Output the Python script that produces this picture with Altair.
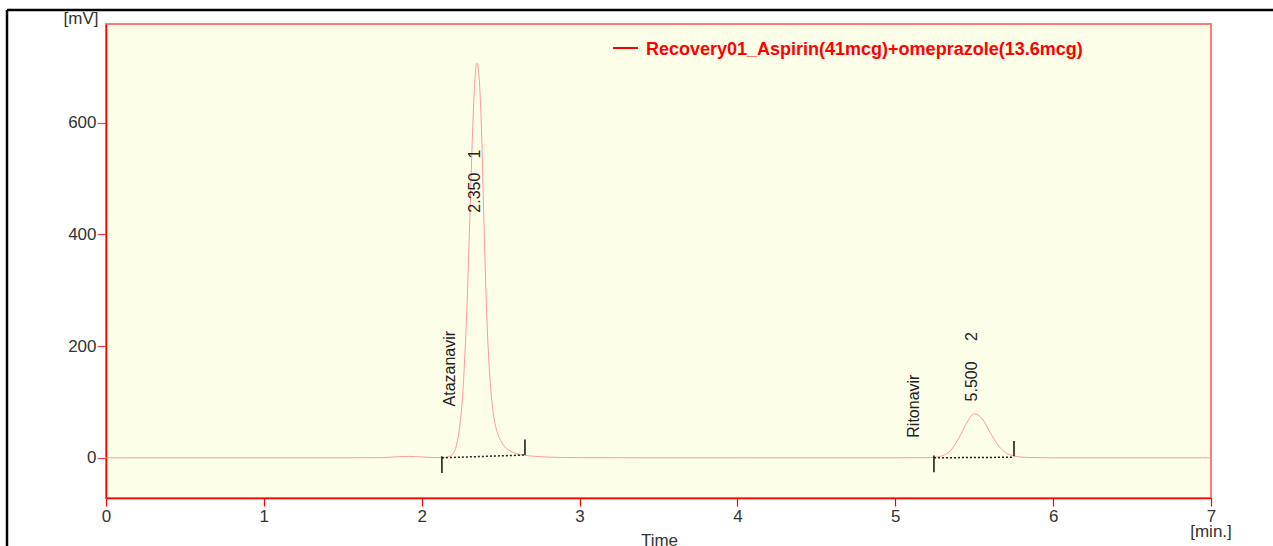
import altair as alt
import pandas as pd

FONT = "Liberation Sans"

series_name = "Recovery01_Aspirin(41mcg)+omeprazole(13.6mcg)"

# Detector trace: retention time [min] and signal [mV]
time_min = [
    0.0, 0.5, 1.0, 1.5, 1.75, 1.85, 1.92, 2.0, 2.06, 2.10,
    2.13, 2.15, 2.18, 2.20, 2.21, 2.22, 2.23, 2.24, 2.25, 2.26,
    2.27, 2.28, 2.29, 2.30, 2.31, 2.32, 2.33, 2.34, 2.35, 2.36,
    2.37, 2.38, 2.39, 2.40, 2.41, 2.42, 2.43, 2.44, 2.45, 2.46,
    2.47, 2.48, 2.50, 2.52, 2.55, 2.60, 2.65, 2.70, 2.80, 2.90,
    3.0, 3.5, 4.0, 4.5, 5.0, 5.20, 5.25, 5.30, 5.35, 5.40,
    5.45, 5.50, 5.55, 5.60, 5.65, 5.70, 5.75, 5.80, 5.90, 6.0,
    6.5, 7.0,
]
signal_mv = [
    0, 0, 0, 0, 0.3, 2, 2.5, 1.5, 0.5, 0.3,
    0.5, 1, 3, 8, 13, 22, 36, 55, 80, 115,
    165, 225, 298, 385, 478, 566, 640, 690, 707, 693,
    650, 575, 468, 362, 272, 202, 152, 114, 87, 68,
    54, 44, 31, 22, 14, 7.5, 4.5, 3, 1.3, 0.5,
    0.2, 0, 0, 0, 0, 0.3, 1, 4, 13, 34,
    61, 79, 70, 46, 23, 9, 3.5, 1.2, 0.3, 0,
    0, 0,
]

# Integrated peaks
peak_rt = [2.350, 5.500]
peak_rt_text = ["2.350", "5.500"]
peak_number = ["1", "2"]
peak_rt_label_mv = [439, 101]
peak_number_label_mv = [536, 209]
compound = ["Atazanavir", "Ritonavir"]
compound_label_time = [2.208, 5.153]
compound_label_mv = [92, 36]

# Integration baselines and their start/end markers
base_start_time = [2.128, 5.245]
base_end_time = [2.654, 5.752]
base_start_mv = [0, 0]
base_end_mv = [5, 1]
start_tick_low = [-27, -26]
start_tick_high = [3, 4]
end_tick_low = [5, 3]
end_tick_high = [33, 30]

trace = pd.DataFrame({"t": time_min, "mv": signal_mv})
peaks = pd.DataFrame({
    "rt": peak_rt, "rt_text": peak_rt_text, "num": peak_number,
    "rt_y": peak_rt_label_mv, "num_y": peak_number_label_mv,
    "name": compound, "name_t": compound_label_time, "name_y": compound_label_mv,
    "b0": base_start_time, "b1": base_end_time,
    "v0": base_start_mv, "v1": base_end_mv,
    "s_lo": start_tick_low, "s_hi": start_tick_high,
    "e_lo": end_tick_low, "e_hi": end_tick_high,
})
one = pd.DataFrame({"name": [series_name]})

x_scale = alt.Scale(domain=[0, 7], nice=False, zero=False)
y_scale = alt.Scale(domain=[-72, 777], nice=False, zero=False)

x_axis = alt.Axis(
    values=list(range(8)), format="d", grid=False,
    tickSize=8, tickColor="#ff0000", tickWidth=1.2,
    domainColor="#ff0000", domainWidth=1.5,
    labelFont=FONT, labelFontSize=17, labelColor="#333333",
    labelPadding=2, labelFlush=False, labelOverlap=False,
    title="Time", titleFont=FONT, titleFontSize=17, titleFontWeight="normal",
    titleColor="#333333", titleX=553, titleY=47, titleBaseline="alphabetic",
    titleAlign="center",
)
y_axis = alt.Axis(
    values=[0, 200, 400, 600], grid=False,
    tickSize=9, tickColor="#ff4040", tickWidth=1.2,
    domainColor="#ff0000", domainWidth=1.5,
    labelFont=FONT, labelFontSize=17, labelColor="#333333", labelPadding=1,
    labelFlush=False, labelOverlap=False,
    title="[mV]", titleFont=FONT, titleFontSize=17, titleFontWeight="normal",
    titleColor="#333333", titleAngle=0, titleAlign="right",
    titleX=-8, titleY=-1, titleBaseline="alphabetic",
)


def xq(field):
    return alt.X(field, type="quantitative", scale=x_scale, axis=x_axis)


def yq(field):
    return alt.Y(field, type="quantitative", scale=y_scale, axis=y_axis)


line = alt.Chart(trace).mark_line(
    color="#ff9a9a", strokeWidth=1, interpolate="monotone"
).encode(x=xq("t"), y=yq("mv"))

base = alt.Chart(peaks)

baseline = base.mark_rule(color="#222222", strokeWidth=1.5, strokeDash=[2, 2]).encode(
    x=xq("b0"), x2="b1:Q", y=yq("v0"), y2="v1:Q",
)
start_ticks = base.mark_rule(color="#111111", strokeWidth=1.5).encode(
    x=xq("b0"), y=yq("s_lo"), y2="s_hi:Q",
)
end_ticks = base.mark_rule(color="#111111", strokeWidth=1.5).encode(
    x=xq("b1"), y=yq("e_lo"), y2="e_hi:Q",
)

label_style = dict(angle=270, align="left", baseline="alphabetic",
                   font=FONT, fontSize=16, color="#222222")
rt_labels = base.mark_text(dy=3, **label_style).encode(
    x=xq("rt"), y=yq("rt_y"), text="rt_text:N",
)
num_labels = base.mark_text(dy=3, **label_style).encode(
    x=xq("rt"), y=yq("num_y"), text="num:N",
)
name_labels = base.mark_text(**label_style).encode(
    x=xq("name_t"), y=yq("name_y"), text="name:N",
)

# Legend entry
legend_line = alt.Chart(one).mark_rule(color="#ff0000", strokeWidth=2).encode(
    x=alt.value(507), x2=alt.value(532), y=alt.value(24)
)
legend_text = alt.Chart(one).mark_text(
    align="left", baseline="alphabetic", font=FONT, fontSize=18,
    fontWeight="bold", color="#ff0000",
).encode(x=alt.value(540), y=alt.value(31), text="name:N")

# Unit label at the end of the time axis
min_unit = alt.Chart(one).mark_text(
    align="center", baseline="alphabetic", font=FONT, fontSize=17, color="#333333"
).encode(x=alt.value(1105), y=alt.value(513), text=alt.value("[min.]"))

# Outer frame (top and left edges)
frame_top = alt.Chart(one).mark_rule(color="black", strokeWidth=2.5).encode(
    x=alt.value(-99), x2=alt.value(1180), y=alt.value(-14)
)
frame_left = alt.Chart(one).mark_rule(color="black", strokeWidth=2.5).encode(
    x=alt.value(-99), y=alt.value(-14), y2=alt.value(540)
)

chart = alt.layer(
    line, baseline, start_ticks, end_ticks, rt_labels, num_labels, name_labels,
    legend_line, legend_text, min_unit, frame_top, frame_left,
).properties(
    width=1105, height=474,
    padding={"left": 106, "top": 24, "right": 62, "bottom": 48},
    autosize=alt.AutoSizeParams(type="none"),
    background="white",
).configure_view(
    fill="#fdfee8", stroke="#ff7b7b", strokeWidth=2,
)

chart.save("out.html", embed_options={"renderer": "svg", "actions": False})
